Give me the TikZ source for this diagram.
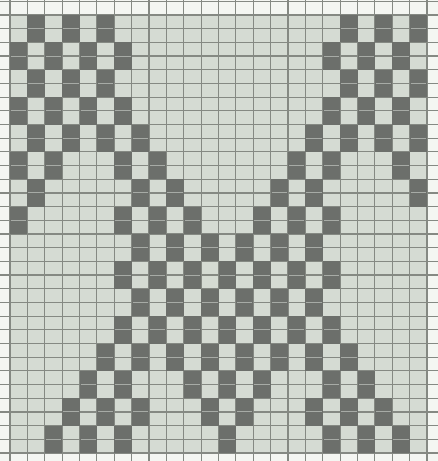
\documentclass[tikz,border=0pt]{standalone}
\definecolor{paper}{HTML}{F4F6F2}
\definecolor{wash}{HTML}{D5DBD3}
\definecolor{ink}{HTML}{6C6F6B}
\definecolor{rule}{HTML}{858983}
\definecolor{midrule}{HTML}{A7ABA6}
\begin{document}
\begin{tikzpicture}[x=1pt,y=-1pt,
		gridline/.style={draw=rule, line width=1.2pt},
		darkcell/.style={fill=ink},
		midline/.style={draw=midrule, line width=1pt}]
		\useasboundingbox (0,0) rectangle (438,461);
		\fill [paper] (0,0) rectangle (438,461);
		\fill [wash] (10,15) rectangle (427,453);
		% grid paper
		\foreach \k in {0,...,24}
			\draw [gridline] ({10+17.375*\k},0) -- ({10+17.375*\k},461);
		\foreach \j in {-1,...,32}
			\draw [gridline] (0,{15+13.6875*\j}) -- (438,{15+13.6875*\j});
		% raised blocks: left half, mirrored about column 12
		\foreach \p/\cols in {0/{1,3,5}, 1/{0,2,4,6}, 2/{1,3,5}, 3/{0,2,4,6},
				4/{1,3,5,7}, 5/{0,2,6,8}, 6/{1,7,9}, 7/{0,6,8,10},
				8/{7,9,11}, 9/{6,8,10,12}, 10/{7,9,11}, 11/{6,8,10,12},
				12/{5,7,9,11}, 13/{4,6,10,12}, 14/{3,5,7,11}, 15/{2,4,6,12}} {
			\foreach \c in \cols {
				\fill [darkcell] ({10+17.375*\c},{15+27.375*\p}) rectangle ++(17.375,27.375);
				\draw [midline] ({10+17.375*\c+1},{15+27.375*\p+13.6875}) -- ++(15.375,0);
				\ifnum\c>0
					\fill [darkcell] ({10+17.375*(24-\c)},{15+27.375*\p}) rectangle ++(17.375,27.375);
					\draw [midline] ({10+17.375*(24-\c)+1},{15+27.375*\p+13.6875}) -- ++(15.375,0);
				\fi
			}
		}
	\end{tikzpicture}
\end{document}
